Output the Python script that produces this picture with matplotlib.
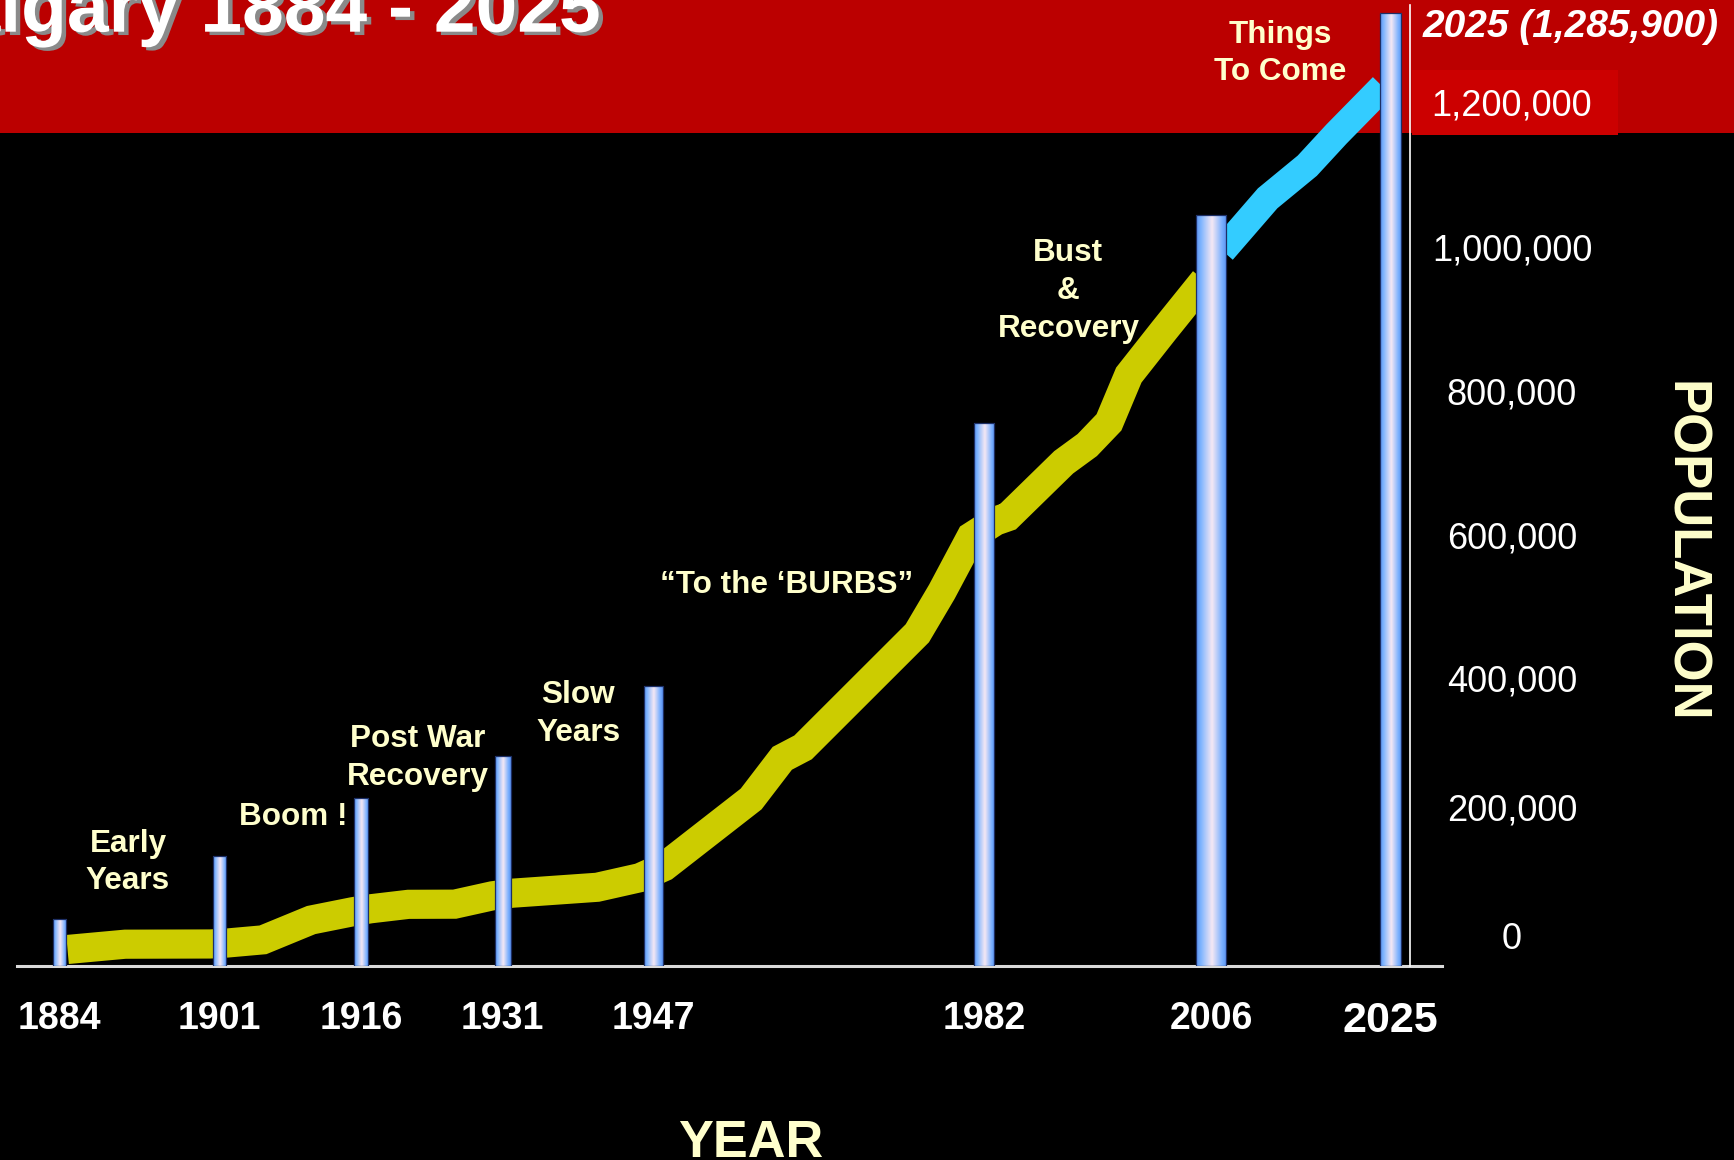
import matplotlib

matplotlib.use("Agg")
import matplotlib.patheffects as pe
import matplotlib.pyplot as plt
import numpy as np
from matplotlib.colors import LinearSegmentedColormap
from matplotlib.patches import Rectangle

plt.rcParams["font.family"] = ["Liberation Sans", "DejaVu Sans"]

# bars: census marker years and their heights
census_years = [1884, 1901, 1916, 1931, 1947, 1982, 2006, 2025]
bar_heights = [63000, 149000, 226000, 283000, 378000, 732000, 1013000, 1285900]

# yellow growth band (history)
trend_years = [1884.9, 1891.0, 1900.0, 1901.8, 1905.6, 1910.7, 1915.1, 1917.0,
               1921.0, 1925.9, 1929.9, 1932.0, 1941.0, 1945.5, 1948.1, 1957.3,
               1960.6, 1962.8, 1974.9, 1977.5, 1980.6, 1983.2, 1984.5, 1990.4,
               1992.9, 1995.2, 1997.3, 2001.0, 2005.3]
trend_pop = [22300, 29400, 29700, 31000, 35300, 62000, 73200, 77200,
             83200, 83400, 94700, 98200, 106200, 119100, 134000, 225300,
             280200, 294900, 448800, 504900, 579100, 600300, 606100, 679500,
             702800, 733400, 797200, 857000, 925000]

# blue band (things to come)
forecast_years = [2007.2, 2012.0, 2016.2, 2019.3, 2024.2]
forecast_pop = [965000, 1035600, 1079600, 1122400, 1186000]

pop_ticks = [0, 200000, 400000, 600000, 800000, 1000000, 1200000]

notes = [
    ("Early\nYears", 1891.3, 139500),
    ("Boom !", 1908.8, 201000),
    ("Post War\nRecovery", 1922.0, 280600),
    ("Slow\nYears", 1939.0, 340000),
    ("\u201cTo the \u2018BURBS\u201d", 1961.1, 514000),
    ("Bust\n&\nRecovery", 1990.9, 910600),
    ("Things\nTo Come", 2013.3, 1231000),
]

# styling
bar_widths = [1.38, 1.42, 1.51, 1.65, 2.0, 2.12, 3.18, 2.3]
tick_nudge_pt = [19, 5, -9, -13, -16, -19, -21]  # the slide's labels sit a bit off their values

RED = "#BB0000"
CREAM = "#FFFFCC"
W, H = 1734, 1160

fig = plt.figure(figsize=(W / 100, H / 100), dpi=100, facecolor="black")

# red header strip + box behind the 1,200,000 label
fig.patches.append(Rectangle((0, 1 - 133 / H), 1, 133 / H, transform=fig.transFigure,
                             facecolor=RED, edgecolor="none", zorder=-2))
fig.patches.append(Rectangle((1412 / W, 1 - 135 / H), 206 / W, 65 / H,
                             transform=fig.transFigure, facecolor="#CC0000",
                             edgecolor="none", zorder=-1))

ax = fig.add_axes([17 / W, 194 / H, (1410 - 17) / W, (966 - 5) / H])
ax.set_facecolor("none")

ax.plot(trend_years, trend_pop, color="#CCCC00", linewidth=21,
        solid_capstyle="butt", solid_joinstyle="miter", zorder=2)
ax.plot(forecast_years, forecast_pop, color="#33CCFF", linewidth=20,
        solid_capstyle="butt", solid_joinstyle="miter", zorder=2)

bar_cmap = LinearSegmentedColormap.from_list(
    "tube", [(0.0, "#5A92F0"), (0.15, "#7DB4FF"), (0.52, "#F6E8F4"),
             (0.85, "#7AB0FF"), (1.0, "#5A92F0")])
grad = np.linspace(0, 1, 64).reshape(1, -1)
bars = ax.bar(census_years, bar_heights, width=bar_widths, facecolor="none",
              edgecolor="#1d2f66", linewidth=0.9, zorder=4)
for rect in bars:
    x0, w, h = rect.get_x(), rect.get_width(), rect.get_height()
    im = ax.imshow(grad, extent=[x0, x0 + w, 0, h], cmap=bar_cmap,
                   aspect="auto", interpolation="bilinear", zorder=3)
    im.set_clip_path(rect)

ax.set_xlim(1879.55, 2027.08)
ax.set_ylim(0, 1296400)

for side in ["top", "left", "bottom"]:
    ax.spines[side].set_visible(False)
ax.spines["right"].set_color("white")
ax.spines["right"].set_linewidth(1.2)
ax.axhline(0, xmin=0, xmax=(1442 - 17) / (1410 - 17), color="#DADADA",
           linewidth=2.2, clip_on=False, zorder=2.5)

ax.set_xticks(census_years, [str(y) for y in census_years],
              fontweight="bold", color="white")
ax.tick_params(axis="x", length=0, pad=25, labelsize=27)
ax.get_xticklabels()[-1].set_fontsize(31)

ax.set_yticks(pop_ticks)
ax.tick_params(axis="y", length=0, left=False, labelleft=False)
for value, nudge in zip(pop_ticks, tick_nudge_pt):
    ax.annotate(f"{value:,}", xy=(1, value), xycoords=("axes fraction", "data"),
                xytext=(73.4, nudge), textcoords="offset points",
                ha="center", va="center", fontsize=26, color="white",
                annotation_clip=False)

for text, x, y in notes:
    ax.text(x, y, text, ha="center", va="center", multialignment="center",
            linespacing=1.33, fontsize=22.7, fontweight="bold", color=CREAM, zorder=6)

fig.text(601 / W, 1 - 31.7 / H, "Calgary 1884 - 2025", ha="right", va="baseline",
         fontsize=54, fontweight="bold", color="white",
         path_effects=[pe.withSimplePatchShadow(offset=(3.2, -2.4),
                                                shadow_rgbFace="#8a8a8a", alpha=1.0)])
fig.text(1571 / W, 1 - 27 / H, "2025 (1,285,900)", ha="center", va="center",
         fontsize=28, fontweight="bold", fontstyle="italic", color="white")
fig.text(751 / W, 3 / H, "YEAR", ha="center", va="baseline",
         fontsize=37.6, fontweight="bold", color=CREAM)
fig.text(1684 / W, 1 - 552 / H, "POPULATION", ha="center", va="center",
         rotation=-90, fontsize=38, fontweight="bold", color=CREAM)

fig.savefig("out.png", dpi=100, facecolor="black")
